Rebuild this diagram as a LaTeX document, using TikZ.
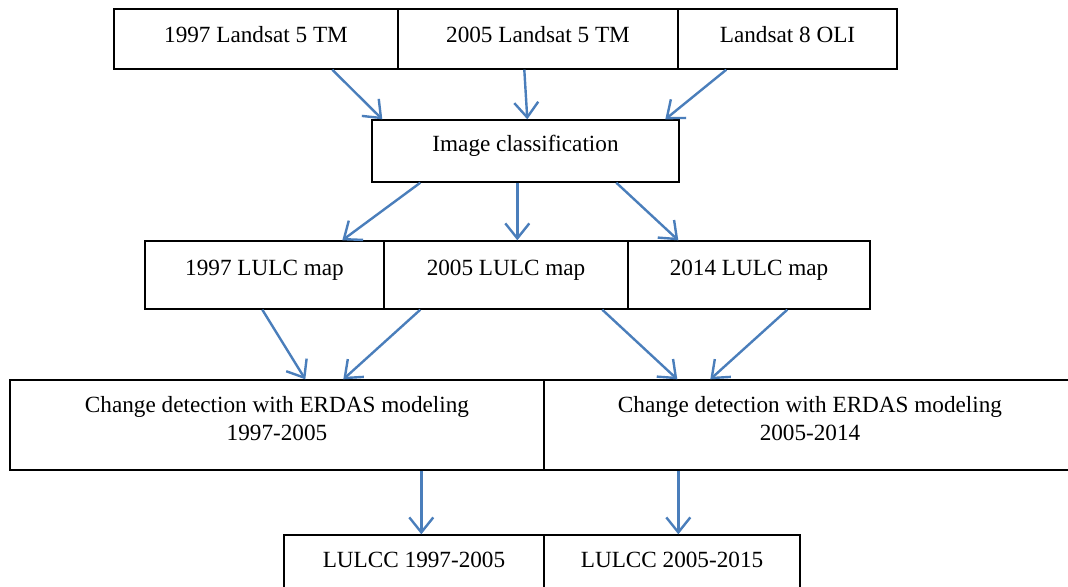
\documentclass[tikz,border=0pt]{standalone}
\usepackage{fontspec}
\setmainfont{Liberation Serif}
\usetikzlibrary{arrows.meta,calc}
\definecolor{arrowblue}{RGB}{74,126,187}
\begin{document}
\begin{tikzpicture}[x=0.5pt,y=-0.5pt,
  box/.style={draw=black,line width=0.7pt,rectangle,inner sep=0pt},
  lbl/.style={inner sep=0pt,font=\fontsize{11.6}{14}\selectfont,align=center},
  flow/.style={draw=arrowblue,line width=1.2pt,-{Straight Barb[length=7.5pt,width=12pt,line width=1.2pt]}}]
\clip (0,0) rectangle (1068,586);
\fill[white] (0,0) rectangle (1068,586);
% boxes
\node[box,minimum width=142pt,minimum height=30pt] (t1) at (256,39) {};
\node[box,minimum width=140pt,minimum height=30pt] (t2) at (538,39) {};
\node[box,minimum width=109.5pt,minimum height=30pt] (t3) at (787.5,39) {};
\node[box,minimum width=153.5pt,minimum height=31pt] (ic) at (525.5,151) {};
\node[box,minimum width=119.5pt,minimum height=34pt] (m1) at (264.5,275) {};
\node[box,minimum width=122pt,minimum height=34pt] (m2) at (506,275) {};
\node[box,minimum width=121pt,minimum height=34pt] (m3) at (749,275) {};
\node[box,minimum width=267pt,minimum height=45pt] (c1) at (277,425) {};
\node[box,minimum width=266pt,minimum height=45pt] (c2) at (810,425) {};
\node[box,minimum width=130pt,minimum height=37.5pt] (r1) at (414,572.5) {};
\node[box,minimum width=128pt,minimum height=37.5pt] (r2) at (672,572.5) {};
% texts
\node[lbl,anchor=base] (t1l) at (256,42) {1997 Landsat 5 TM};
\node[lbl,anchor=base] (t2l) at (538,42) {2005 Landsat 5 TM};
\node[lbl,anchor=base] (t3l) at (787.5,42) {Landsat 8 OLI};
\node[lbl,anchor=base] (icl) at (525.5,151) {Image classification};
\node[lbl,anchor=base] (m1l) at (264.5,275) {1997 LULC map};
\node[lbl,anchor=base] (m2l) at (506,275) {2005 LULC map};
\node[lbl,anchor=base] (m3l) at (749,275) {2014 LULC map};
\node[lbl,anchor=north] (c1l) at (277,396) {Change detection with ERDAS modeling\\1997-2005};
\node[lbl,anchor=north] (c2l) at (810,396) {Change detection with ERDAS modeling\\2005-2014};
\node[lbl,anchor=base] (r1l) at (414,567) {LULCC 1997-2005};
\node[lbl,anchor=base] (r2l) at (672,567) {LULCC 2005-2015};
% connectors
\draw[flow] ($(t1.south west)+(219,0)$) -- ($(ic.north west)+(11,0)$);
\draw[flow] ($(t2.south west)+(127,0)$) -- ($(ic.north west)+(156,0)$);
\draw[flow] ($(t3.south west)+(49,0)$) -- ($(ic.north west)+(294,0)$);
\draw[flow] ($(ic.south west)+(49,0)$) -- ($(m1.north west)+(198,0)$);
\draw[flow] ($(ic.south west)+(146,0)$) -- ($(m2.north west)+(134,0)$);
\draw[flow] ($(ic.south west)+(245,0)$) -- ($(m3.north west)+(51,0)$);
\draw[flow] ($(m1.south west)+(118,0)$) -- ($(c1.north west)+(296,0)$);
\draw[flow] ($(m2.south west)+(37,0)$) -- ($(c1.north west)+(334,0)$);
\draw[flow] ($(m2.south west)+(219,0)$) -- ($(c2.north west)+(134,0)$);
\draw[flow] ($(m3.south west)+(160,0)$) -- ($(c2.north west)+(167,0)$);
\draw[flow] ($(c1.south west)+(412,0)$) -- ($(r1.north west)+(138,0)$);
\draw[flow] ($(c2.south west)+(135,0)$) -- ($(r2.north west)+(135,0)$);
\end{tikzpicture}
\end{document}
